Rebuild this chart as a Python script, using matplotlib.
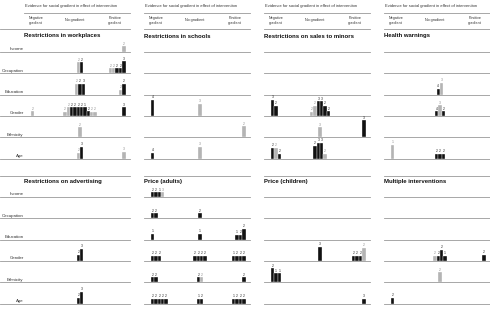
import matplotlib
matplotlib.use('Agg')
import matplotlib.pyplot as plt

plt.rcParams['font.family'] = ['Liberation Sans', 'DejaVu Sans']

# ---------------- data ----------------
rows = ['Income', 'Occupation', 'Education', 'Gender', 'Ethnicity', 'Age']
col_labels = ['Negative\ngradient', 'No gradient', 'Positive\ngradient']
header = 'Evidence for social gradient in effect of intervention'
titles = ['Restrictions in workplaces', 'Restrictions in schools',
          'Restrictions on sales to minors', 'Health warnings',
          'Restrictions on advertising', 'Price (adults)',
          'Price (children)', 'Multiple interventions']

# each bar: (gradient group N/O/P, shade k=black g=grey, bar height, label)
workplaces = {
    'Income': [('P', 'g', 6, '2')],
    'Occupation': [('O', 'g', 11, '2'), ('O', 'k', 11, '2'),
                   ('P', 'g', 5, '2'), ('P', 'g', 5, '2'), ('P', 'k', 5, '2'),
                   ('P', 'k', 5, '2'), ('P', 'k', 12, '3')],
    'Education': [('O', 'g', 11, '2'), ('O', 'k', 11, '2'), ('O', 'k', 11, '3'),
                  ('P', 'g', 5, '2'), ('P', 'k', 11, '2')],
    'Gender': [('N', 'g', 5, '2'),
               ('O', 'g', 4, '2'), ('O', 'g', 9, '2'), ('O', 'k', 9, '2'),
               ('O', 'k', 9, '2'), ('O', 'k', 9, '2'), ('O', 'k', 9, '2'),
               ('O', 'k', 9, '1'), ('O', 'k', 5, '2'), ('O', 'g', 4, '2'),
               ('O', 'g', 4, '2'),
               ('P', 'k', 9, '3')],
    'Ethnicity': [('O', 'g', 10, '2')],
    'Age': [('O', 'g', 6, '2'), ('O', 'k', 12, '3'), ('P', 'g', 7, '3')],
}
schools = {
    'Gender': [('N', 'k', 16, '4'), ('O', 'g', 12, '3')],
    'Ethnicity': [('P', 'g', 11, '2')],
    'Age': [('N', 'k', 6, '4'), ('O', 'g', 12, '3')],
}
minors = {
    'Gender': [('N', 'k', 16, '3'), ('N', 'k', 10, '2'),
               ('O', 'g', 4, '2'), ('O', 'g', 10, '2'), ('O', 'k', 15, '3'),
               ('O', 'k', 15, '3'), ('O', 'k', 10, '2'), ('O', 'k', 5, '2')],
    'Ethnicity': [('O', 'g', 10, '3'), ('P', 'k', 17, '3')],
    'Age': [('N', 'k', 11, '2'), ('N', 'g', 11, '2'), ('N', 'k', 5, '2'),
            ('O', 'k', 13, '2'), ('O', 'k', 16, '3'), ('O', 'k', 16, '3'),
            ('O', 'g', 5, '2')],
}
warnings = {
    'Education': [('O', 'k', 6, '4'), ('O', 'g', 12, '3')],
    'Gender': [('O', 'k', 5, '4'), ('O', 'g', 11, '3'), ('O', 'k', 5, '2')],
    'Age': [('N', 'g', 14, '1'),
            ('O', 'k', 5, '2'), ('O', 'k', 5, '2'), ('O', 'k', 5, '2')],
}
advertising = {
    'Gender': [('O', 'k', 6, '2'), ('O', 'k', 12, '3')],
    'Age': [('O', 'k', 6, '2'), ('O', 'k', 12, '3')],
}
price_adults = {
    'Income': [('N', 'k', 5, '2'), ('N', 'k', 5, '2'), ('N', 'k', 5, '1'),
               ('N', 'g', 5, '3')],
    'Occupation': [('N', 'k', 5, '2'), ('N', 'k', 5, '2'), ('O', 'k', 5, '2')],
    'Education': [('N', 'k', 6, '1'), ('O', 'k', 6, '1'),
                  ('P', 'k', 5, '1'), ('P', 'k', 5, '2'), ('P', 'k', 11, '2')],
    'Gender': [('N', 'k', 5, '2'), ('N', 'k', 5, '2'), ('N', 'k', 5, '2'),
               ('O', 'k', 5, '2'), ('O', 'k', 5, '2'), ('O', 'k', 5, '2'),
               ('O', 'k', 5, '2'),
               ('P', 'k', 5, '1'), ('P', 'k', 5, '2'), ('P', 'k', 5, '2'),
               ('P', 'k', 5, '2')],
    'Ethnicity': [('N', 'k', 5, '2'), ('N', 'k', 5, '2'),
                  ('O', 'k', 5, '2'), ('O', 'g', 5, '2'), ('P', 'k', 5, '2')],
    'Age': [('N', 'k', 5, '2'), ('N', 'k', 5, '2'), ('N', 'k', 5, '2'),
            ('N', 'k', 5, '2'), ('N', 'k', 5, '2'),
            ('O', 'k', 5, '1'), ('O', 'k', 5, '2'),
            ('P', 'k', 5, '1'), ('P', 'k', 5, '2'), ('P', 'k', 5, '2'),
            ('P', 'k', 5, '2')],
}
price_children = {
    'Gender': [('O', 'k', 14, '3'),
               ('P', 'k', 5, '2'), ('P', 'k', 5, '2'), ('P', 'k', 5, '2'),
               ('P', 'g', 13, '2')],
    'Ethnicity': [('N', 'k', 14, '2'), ('N', 'k', 9, '1'), ('N', 'k', 9, '1')],
    'Age': [('P', 'k', 5, '3')],
}
multiple = {
    'Gender': [('O', 'g', 5, '2'), ('O', 'k', 5, '2'), ('O', 'k', 11, '2'),
               ('O', 'k', 5, '1'), ('P', 'k', 6, '2')],
    'Ethnicity': [('O', 'g', 10, '2')],
    'Age': [('N', 'k', 6, '2')],
}
panels = [workplaces, schools, minors, warnings,
          advertising, price_adults, price_children, multiple]

# ---------------- layout (pixel units) ----------------
W, H = 490, 309
fig = plt.figure(figsize=(W / 100, H / 100), dpi=100)
ax = fig.add_axes([0, 0, 1, 1])
ax.set_xlim(0, W)
ax.set_ylim(H, 0)
ax.axis('off')

col_start = [24, 144, 264, 384]
panel_w = 106
row_gap = 21.3
block_first = [52, 197]
block_topline = [29, 176]
block_title = [36, 181]
bar_w = 3.35
neg_left, no_center, pos_right = 7, 56, 101.5
line_col = '#999999'
shade = {'k': '#111111', 'g': '#b4b4b4'}
lbl_col = {'k': '#222222', 'g': '#8a8a8a'}

# column headers
for c, x0 in enumerate(col_start):
    ax.text(x0 + 1, 6, header, fontsize=2.95, color='#333333',
            ha='left', va='center')
    ax.plot([x0, x0 + panel_w], [13, 13], color=line_col, lw=0.6)
    for lab, off in zip(col_labels, [12, 51, 91]):
        ax.text(x0 + off, 20.5, lab, fontsize=2.7, color='#333333',
                ha='center', va='center', linespacing=1.1)

for p, data in enumerate(panels):
    b, c = divmod(p, 4)
    x0 = col_start[c]
    xl = 0 if c == 0 else x0
    ax.plot([xl, x0 + panel_w], [block_topline[b]] * 2, color=line_col, lw=0.6)
    ax.text(x0, block_title[b], titles[p], fontsize=4.3, fontweight='bold',
            ha='left', va='center', color='#111111')
    for i, r in enumerate(rows):
        base = block_first[b] + i * row_gap
        ax.plot([xl, x0 + panel_w], [base, base], color=line_col, lw=0.6)
        if c == 0:
            ax.text(23.5, base - 0.6, r, fontsize=3.2, color='#333333',
                    ha='right', va='bottom')
        bars = data.get(r, [])
        for g in 'NOP':
            grp = [bb for bb in bars if bb[0] == g]
            n = len(grp)
            if n == 0:
                continue
            if g == 'N':
                left = x0 + neg_left
            elif g == 'O':
                left = x0 + no_center - n * bar_w / 2
            else:
                left = x0 + pos_right - n * bar_w
            for j, (_, s, h, lab) in enumerate(grp):
                xc = left + (j + 0.5) * bar_w
                ax.bar(xc, -h, bottom=base, width=bar_w, color=shade[s],
                       edgecolor='white', linewidth=0.25)
                ax.text(xc, base - h - 0.4, lab, fontsize=2.4,
                        color=lbl_col[s], ha='center', va='bottom')

fig.savefig('out.png', dpi=100)
